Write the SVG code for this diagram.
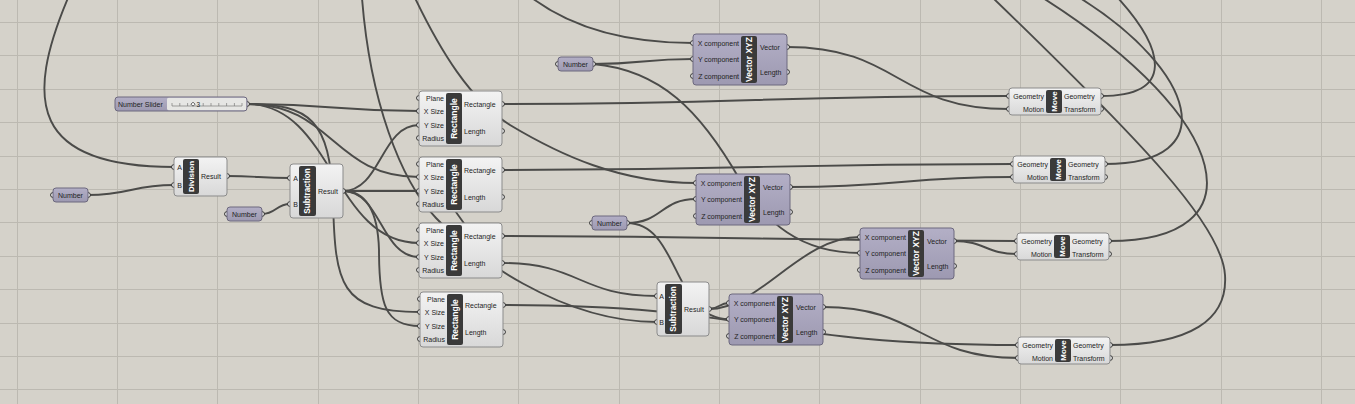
<svg xmlns="http://www.w3.org/2000/svg" width="1355" height="404" viewBox="0 0 1355 404">
<defs>
<linearGradient id="gl" x1="0" y1="0" x2="0" y2="1"><stop offset="0" stop-color="#f3f3f3"/><stop offset="1" stop-color="#d8d8d8"/></linearGradient>
<linearGradient id="gp" x1="0" y1="0" x2="0" y2="1"><stop offset="0" stop-color="#b3afc6"/><stop offset="1" stop-color="#9d99b1"/></linearGradient>
<style>
.bg{fill:#d5d2ca}
.grid{fill:none;stroke:#bcb9b1;stroke-width:1}
.w{fill:none;stroke:#4b4b49;stroke-width:1.9}
.box{fill:url(#gl);stroke:#8b8b8b;stroke-width:1}
.pbox{fill:url(#gp);stroke:#6c687e;stroke-width:1}
.strip{fill:#3a3a3a}
.pt{fill:#fafafa;stroke:#2c2c2c;stroke-width:1}
.lbl{font-family:"Liberation Sans",Arial,sans-serif;font-size:7px;fill:#1e1e1e}
.r{text-anchor:end}
.c{text-anchor:middle}
.stt{font-family:"Liberation Sans",Arial,sans-serif;font-size:8.5px;font-weight:bold;fill:#ffffff;text-anchor:middle}
.tick{fill:none;stroke:#7a7a7a;stroke-width:0.7}
</style>
</defs>
<rect class="bg" x="0" y="0" width="1355" height="404"/>
<path class="grid" d="M17.5 0V404M117.5 0V404M217.5 0V404M318.5 0V404M418.5 0V404M518.5 0V404M619.5 0V404M719.5 0V404M819.5 0V404M920.5 0V404M1020.5 0V404M1120.5 0V404M1221.5 0V404M1321.5 0V404M0 22.5H1355M0 55.5H1355M0 89.5H1355M0 122.5H1355M0 156.5H1355M0 189.5H1355M0 222.5H1355M0 256.5H1355M0 289.5H1355M0 323.5H1355M0 356.5H1355M0 389.5H1355"/>

<g id="connectors">
<path class="w" d="M88,195 C130,195 132,185 174,185"/>
<path class="w" d="M68,-2 C25,100 30,167 174,167"/>
<path class="w" d="M227,176 C258,176 259,178 290,178"/>
<path class="w" d="M262,214 C276,214 276,204 290,204"/>
<path class="w" d="M247,104 C333,104 333,111 419,111"/>
<path class="w" d="M247,104 C333,104 333,177 419,177"/>
<path class="w" d="M247,104 C333,104 333,243 419,243"/>
<path class="w" d="M247,104 C310,104 330,120 333,200 C335,285 340,312 420,312"/>
<path class="w" d="M343,191 C381,191 381,125 419,125"/>
<path class="w" d="M343,191 L419,191"/>
<path class="w" d="M343,191 C381,191 381,257 419,257"/>
<path class="w" d="M343,191 C368,191 378,215 379,250 C379,305 385,326 420,326"/>
<path class="w" d="M362,-2 C370,100 400,180 436,218 C470,254 560,322 657,322"/>
<path class="w" d="M444,196 C451,205 459,216 470,232"/>
<path class="w" d="M415,-2 C440,50 470,100 510,125 C560,155 620,183 696,183"/>
<path class="w" d="M532,-2 C575,30 630,43 693,43"/>
<path class="w" d="M593,64 C643,64 643,59 693,59"/>
<path class="w" d="M593,64 C660,70 700,110 740,180 C765,222 800,253 860,253"/>
<path class="w" d="M627,223 C662,223 661,199 696,199"/>
<path class="w" d="M627,223 C680,223 672,319 729,319"/>
<path class="w" d="M502,263 C580,263 579,296 657,296"/>
<path class="w" d="M503,305 C760,305 761,345 1018,345"/>
<path class="w" d="M709,309 C719,309 719,303 729,303"/>
<path class="w" d="M709,309 C760,309 800,237 860,237"/>
<path class="w" d="M823,307 C920,307 921,358 1018,358"/>
<path class="w" d="M502,104 C755,104 756,96 1009,96"/>
<path class="w" d="M787,47 C900,47 896,109 1009,109"/>
<path class="w" d="M502,170 C757,170 758,164 1013,164"/>
<path class="w" d="M790,187 C901,187 902,177 1013,177"/>
<path class="w" d="M502,236 C760,236 759,241 1017,241"/>
<path class="w" d="M954,241 C985,241 986,254 1017,254"/>
<path class="w" d="M1101,96 C1175,96 1165,50 1118,-2"/>
<path class="w" d="M1105,164 C1225,164 1195,70 1080,-2"/>
<path class="w" d="M1109,241 C1260,241 1235,120 1043,-2"/>
<path class="w" d="M1110,345 C1190,345 1228,320 1225,275 C1222,225 1140,140 993,-2"/>
</g>

<g id="slider" transform="translate(115,97)">
<circle class="pt" cx="132" cy="7" r="2.4"/>
<rect x="0" y="0" width="132" height="14" rx="3" fill="url(#gp)"/>
<rect x="52" y="0.5" width="79.5" height="13" rx="2" fill="#e6e6e4"/>
<rect x="0" y="0" width="132" height="14" rx="3" fill="none" stroke="#6c687e"/>
<path class="tick" d="M57 9H127M57 6V9M64.8 6V9M72.6 6V9M88.2 6V9M96 6V9M103.8 6V9M111.6 6V9M119.4 6V9M127 6V9"/>
<path d="M78 5.2L80 7.2L78 9.2L76 7.2Z" fill="#fff" stroke="#333" stroke-width="0.8"/>
<text class="lbl" x="81.5" y="9.6" style="font-size:6.5px">3</text>
<text class="lbl" x="3" y="9.5">Number Slider</text>
</g>

<g id="numL" transform="translate(53,188)">
<circle class="pt" cx="0" cy="7" r="2.4"/><circle class="pt" cx="35" cy="7" r="2.4"/>
<rect class="pbox" x="0" y="0" width="35" height="14" rx="3"/>
<text class="lbl c" x="17.5" y="9.5">Number</text>
</g>

<g id="numML" transform="translate(227,207)">
<circle class="pt" cx="0" cy="7" r="2.4"/><circle class="pt" cx="35" cy="7" r="2.4"/>
<rect class="pbox" x="0" y="0" width="35" height="14" rx="3"/>
<text class="lbl c" x="17.5" y="9.5">Number</text>
</g>

<g id="numT" transform="translate(558,57)">
<circle class="pt" cx="0" cy="7" r="2.4"/><circle class="pt" cx="35" cy="7" r="2.4"/>
<rect class="pbox" x="0" y="0" width="35" height="14" rx="3"/>
<text class="lbl c" x="17.5" y="9.5">Number</text>
</g>

<g id="numM" transform="translate(592,216)">
<circle class="pt" cx="0" cy="7" r="2.4"/><circle class="pt" cx="35" cy="7" r="2.4"/>
<rect class="pbox" x="0" y="0" width="35" height="14" rx="3"/>
<text class="lbl c" x="17.5" y="9.5">Number</text>
</g>

<g id="division" transform="translate(174,157)">
<circle class="pt" cx="0" cy="10" r="2.4"/><circle class="pt" cx="0" cy="28" r="2.4"/><circle class="pt" cx="53" cy="19" r="2.4"/>
<rect class="box" x="0" y="0" width="53" height="39" rx="3"/>
<rect class="strip" x="9" y="2" width="16" height="35" rx="2"/>
<text class="stt" style="font-size:8px" transform="rotate(-90 17 19.5)" x="17" y="22.3">Division</text>
<text class="lbl r" x="8" y="12.5">A</text>
<text class="lbl r" x="8" y="30.5">B</text>
<text class="lbl" x="27" y="21.5">Result</text>
</g>

<g id="sub1" transform="translate(290,164)">
<circle class="pt" cx="0" cy="14" r="2.4"/><circle class="pt" cx="0" cy="40" r="2.4"/><circle class="pt" cx="53" cy="27" r="2.4"/>
<rect class="box" x="0" y="0" width="53" height="54" rx="3"/>
<rect class="strip" x="9" y="2" width="17" height="50" rx="2"/>
<text class="stt" style="font-size:8.2px" transform="rotate(-90 17.5 27)" x="17.5" y="29.9">Subtraction</text>
<text class="lbl r" x="8" y="16.5">A</text>
<text class="lbl r" x="8" y="42.5">B</text>
<text class="lbl" x="28" y="29.5">Result</text>
</g>

<g id="rect1" transform="translate(419,91)">
<circle class="pt" cx="0" cy="7" r="2.4"/><circle class="pt" cx="0" cy="20" r="2.4"/><circle class="pt" cx="0" cy="34" r="2.4"/><circle class="pt" cx="0" cy="47" r="2.4"/>
<circle class="pt" cx="83" cy="13" r="2.4"/><circle class="pt" cx="83" cy="40" r="2.4"/>
<rect class="box" x="0" y="0" width="83" height="55" rx="3"/>
<rect class="strip" x="27" y="2" width="16" height="51" rx="2"/>
<text class="stt" transform="rotate(-90 35 27.5)" x="35" y="30.5">Rectangle</text>
<text class="lbl r" x="25" y="9.5">Plane</text>
<text class="lbl r" x="25" y="22.5">X Size</text>
<text class="lbl r" x="25" y="36.5">Y Size</text>
<text class="lbl r" x="25" y="49.5">Radius</text>
<text class="lbl" x="45" y="15.5">Rectangle</text>
<text class="lbl" x="45" y="42.5">Length</text>
</g>

<g id="rect2" transform="translate(419,157)">
<circle class="pt" cx="0" cy="7" r="2.4"/><circle class="pt" cx="0" cy="20" r="2.4"/><circle class="pt" cx="0" cy="34" r="2.4"/><circle class="pt" cx="0" cy="47" r="2.4"/>
<circle class="pt" cx="83" cy="13" r="2.4"/><circle class="pt" cx="83" cy="40" r="2.4"/>
<rect class="box" x="0" y="0" width="83" height="55" rx="3"/>
<rect class="strip" x="27" y="2" width="16" height="51" rx="2"/>
<text class="stt" transform="rotate(-90 35 27.5)" x="35" y="30.5">Rectangle</text>
<text class="lbl r" x="25" y="9.5">Plane</text>
<text class="lbl r" x="25" y="22.5">X Size</text>
<text class="lbl r" x="25" y="36.5">Y Size</text>
<text class="lbl r" x="25" y="49.5">Radius</text>
<text class="lbl" x="45" y="15.5">Rectangle</text>
<text class="lbl" x="45" y="42.5">Length</text>
</g>

<g id="rect3" transform="translate(419,223)">
<circle class="pt" cx="0" cy="7" r="2.4"/><circle class="pt" cx="0" cy="20" r="2.4"/><circle class="pt" cx="0" cy="34" r="2.4"/><circle class="pt" cx="0" cy="47" r="2.4"/>
<circle class="pt" cx="83" cy="13" r="2.4"/><circle class="pt" cx="83" cy="40" r="2.4"/>
<rect class="box" x="0" y="0" width="83" height="55" rx="3"/>
<rect class="strip" x="27" y="2" width="16" height="51" rx="2"/>
<text class="stt" transform="rotate(-90 35 27.5)" x="35" y="30.5">Rectangle</text>
<text class="lbl r" x="25" y="9.5">Plane</text>
<text class="lbl r" x="25" y="22.5">X Size</text>
<text class="lbl r" x="25" y="36.5">Y Size</text>
<text class="lbl r" x="25" y="49.5">Radius</text>
<text class="lbl" x="45" y="15.5">Rectangle</text>
<text class="lbl" x="45" y="42.5">Length</text>
</g>

<g id="rect4" transform="translate(420,292)">
<circle class="pt" cx="0" cy="7" r="2.4"/><circle class="pt" cx="0" cy="20" r="2.4"/><circle class="pt" cx="0" cy="34" r="2.4"/><circle class="pt" cx="0" cy="47" r="2.4"/>
<circle class="pt" cx="83" cy="13" r="2.4"/><circle class="pt" cx="83" cy="40" r="2.4"/>
<rect class="box" x="0" y="0" width="83" height="55" rx="3"/>
<rect class="strip" x="27" y="2" width="16" height="51" rx="2"/>
<text class="stt" transform="rotate(-90 35 27.5)" x="35" y="30.5">Rectangle</text>
<text class="lbl r" x="25" y="9.5">Plane</text>
<text class="lbl r" x="25" y="22.5">X Size</text>
<text class="lbl r" x="25" y="36.5">Y Size</text>
<text class="lbl r" x="25" y="49.5">Radius</text>
<text class="lbl" x="45" y="15.5">Rectangle</text>
<text class="lbl" x="45" y="42.5">Length</text>
</g>

<g id="vec1" transform="translate(693,34)">
<circle class="pt" cx="0" cy="9" r="2.4"/><circle class="pt" cx="0" cy="25" r="2.4"/><circle class="pt" cx="0" cy="42" r="2.4"/>
<circle class="pt" cx="94" cy="13" r="2.4"/><circle class="pt" cx="94" cy="38" r="2.4"/>
<rect class="pbox" x="0" y="0" width="94" height="51" rx="3"/>
<rect class="strip" x="48" y="2" width="16" height="47" rx="2"/>
<text class="stt" transform="rotate(-90 56 25.5)" x="56" y="28.5">Vector XYZ</text>
<text class="lbl r" x="46" y="11.5">X component</text>
<text class="lbl r" x="46" y="27.5">Y component</text>
<text class="lbl r" x="46" y="44.5">Z component</text>
<text class="lbl" x="67" y="15.5">Vector</text>
<text class="lbl" x="67" y="40.5">Length</text>
</g>

<g id="vec2" transform="translate(696,174)">
<circle class="pt" cx="0" cy="9" r="2.4"/><circle class="pt" cx="0" cy="25" r="2.4"/><circle class="pt" cx="0" cy="42" r="2.4"/>
<circle class="pt" cx="94" cy="13" r="2.4"/><circle class="pt" cx="94" cy="38" r="2.4"/>
<rect class="pbox" x="0" y="0" width="94" height="51" rx="3"/>
<rect class="strip" x="48" y="2" width="16" height="47" rx="2"/>
<text class="stt" transform="rotate(-90 56 25.5)" x="56" y="28.5">Vector XYZ</text>
<text class="lbl r" x="46" y="11.5">X component</text>
<text class="lbl r" x="46" y="27.5">Y component</text>
<text class="lbl r" x="46" y="44.5">Z component</text>
<text class="lbl" x="67" y="15.5">Vector</text>
<text class="lbl" x="67" y="40.5">Length</text>
</g>

<g id="sub2" transform="translate(657,282)">
<circle class="pt" cx="0" cy="14" r="2.4"/><circle class="pt" cx="0" cy="40" r="2.4"/><circle class="pt" cx="52" cy="27" r="2.4"/>
<rect class="box" x="0" y="0" width="52" height="54" rx="3"/>
<rect class="strip" x="8" y="2" width="17" height="50" rx="2"/>
<text class="stt" style="font-size:8.2px" transform="rotate(-90 16.5 27)" x="16.5" y="29.9">Subtraction</text>
<text class="lbl r" x="7" y="16.5">A</text>
<text class="lbl r" x="7" y="42.5">B</text>
<text class="lbl" x="27" y="29.5">Result</text>
</g>

<g id="vec3" transform="translate(729,294)">
<circle class="pt" cx="0" cy="9" r="2.4"/><circle class="pt" cx="0" cy="25" r="2.4"/><circle class="pt" cx="0" cy="42" r="2.4"/>
<circle class="pt" cx="94" cy="13" r="2.4"/><circle class="pt" cx="94" cy="38" r="2.4"/>
<rect class="pbox" x="0" y="0" width="94" height="51" rx="3"/>
<rect class="strip" x="48" y="2" width="16" height="47" rx="2"/>
<text class="stt" transform="rotate(-90 56 25.5)" x="56" y="28.5">Vector XYZ</text>
<text class="lbl r" x="46" y="11.5">X component</text>
<text class="lbl r" x="46" y="27.5">Y component</text>
<text class="lbl r" x="46" y="44.5">Z component</text>
<text class="lbl" x="67" y="15.5">Vector</text>
<text class="lbl" x="67" y="40.5">Length</text>
</g>

<g id="vec4" transform="translate(860,228)">
<circle class="pt" cx="0" cy="9" r="2.4"/><circle class="pt" cx="0" cy="25" r="2.4"/><circle class="pt" cx="0" cy="42" r="2.4"/>
<circle class="pt" cx="94" cy="13" r="2.4"/><circle class="pt" cx="94" cy="38" r="2.4"/>
<rect class="pbox" x="0" y="0" width="94" height="51" rx="3"/>
<rect class="strip" x="48" y="2" width="16" height="47" rx="2"/>
<text class="stt" transform="rotate(-90 56 25.5)" x="56" y="28.5">Vector XYZ</text>
<text class="lbl r" x="46" y="11.5">X component</text>
<text class="lbl r" x="46" y="27.5">Y component</text>
<text class="lbl r" x="46" y="44.5">Z component</text>
<text class="lbl" x="67" y="15.5">Vector</text>
<text class="lbl" x="67" y="40.5">Length</text>
</g>

<g id="move1" transform="translate(1009,88)">
<circle class="pt" cx="0" cy="8" r="2.4"/><circle class="pt" cx="0" cy="21" r="2.4"/><circle class="pt" cx="92" cy="8" r="2.4"/><circle class="pt" cx="92" cy="21" r="2.4"/>
<rect class="box" x="0" y="0" width="92" height="27" rx="3"/>
<rect class="strip" x="37" y="2" width="16" height="23" rx="2"/>
<text class="stt" style="font-size:8px" transform="rotate(-90 45 13.5)" x="45" y="16.3">Move</text>
<text class="lbl r" x="35" y="10.5">Geometry</text>
<text class="lbl r" x="35" y="23.5">Motion</text>
<text class="lbl" x="55" y="10.5">Geometry</text>
<text class="lbl" x="55" y="23.5">Transform</text>
</g>

<g id="move2" transform="translate(1013,156)">
<circle class="pt" cx="0" cy="8" r="2.4"/><circle class="pt" cx="0" cy="21" r="2.4"/><circle class="pt" cx="92" cy="8" r="2.4"/><circle class="pt" cx="92" cy="21" r="2.4"/>
<rect class="box" x="0" y="0" width="92" height="27" rx="3"/>
<rect class="strip" x="37" y="2" width="16" height="23" rx="2"/>
<text class="stt" style="font-size:8px" transform="rotate(-90 45 13.5)" x="45" y="16.3">Move</text>
<text class="lbl r" x="35" y="10.5">Geometry</text>
<text class="lbl r" x="35" y="23.5">Motion</text>
<text class="lbl" x="55" y="10.5">Geometry</text>
<text class="lbl" x="55" y="23.5">Transform</text>
</g>

<g id="move3" transform="translate(1017,233)">
<circle class="pt" cx="0" cy="8" r="2.4"/><circle class="pt" cx="0" cy="21" r="2.4"/><circle class="pt" cx="92" cy="8" r="2.4"/><circle class="pt" cx="92" cy="21" r="2.4"/>
<rect class="box" x="0" y="0" width="92" height="27" rx="3"/>
<rect class="strip" x="37" y="2" width="16" height="23" rx="2"/>
<text class="stt" style="font-size:8px" transform="rotate(-90 45 13.5)" x="45" y="16.3">Move</text>
<text class="lbl r" x="35" y="10.5">Geometry</text>
<text class="lbl r" x="35" y="23.5">Motion</text>
<text class="lbl" x="55" y="10.5">Geometry</text>
<text class="lbl" x="55" y="23.5">Transform</text>
</g>

<g id="move4" transform="translate(1018,337)">
<circle class="pt" cx="0" cy="8" r="2.4"/><circle class="pt" cx="0" cy="21" r="2.4"/><circle class="pt" cx="92" cy="8" r="2.4"/><circle class="pt" cx="92" cy="21" r="2.4"/>
<rect class="box" x="0" y="0" width="92" height="27" rx="3"/>
<rect class="strip" x="37" y="2" width="16" height="23" rx="2"/>
<text class="stt" style="font-size:8px" transform="rotate(-90 45 13.5)" x="45" y="16.3">Move</text>
<text class="lbl r" x="35" y="10.5">Geometry</text>
<text class="lbl r" x="35" y="23.5">Motion</text>
<text class="lbl" x="55" y="10.5">Geometry</text>
<text class="lbl" x="55" y="23.5">Transform</text>
</g>
</svg>
